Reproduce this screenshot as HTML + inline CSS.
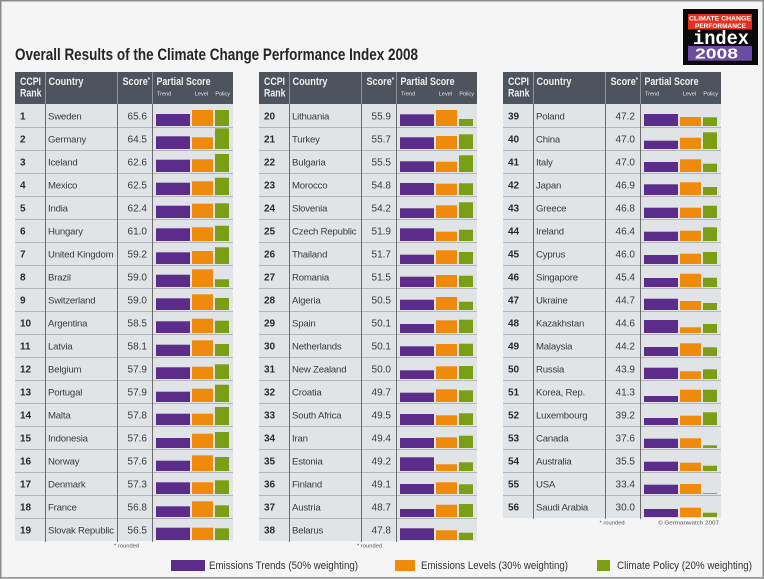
<!DOCTYPE html>
<html><head><meta charset="utf-8"><style>
html,body{margin:0;padding:0;background:#f5f5f5;}
svg{display:block;}
text{font-family:"Liberation Sans",Arial,sans-serif;}
.rk{font-size:10px;font-weight:bold;fill:#2a2a2a;}
.cn{font-size:9.6px;fill:#3a3a3a;letter-spacing:-0.2px;}
.sc{font-size:10px;fill:#3a3a3a;text-anchor:end;}
.t{fill:#5b2c8a;}
.l{fill:#ef8a0a;}
.p{fill:#7b9f14;}
.hd{font-size:11px;font-weight:bold;fill:#eeeeee;}
.hs{font-size:5.5px;fill:#e8e8e8;}
.fn{font-size:5.8px;fill:#555;}
.lg{font-size:11px;fill:#333;}
</style></head><body>
<svg width="764" height="579" viewBox="0 0 764 579" xmlns="http://www.w3.org/2000/svg">
<rect x="0" y="0" width="764" height="579" fill="#f5f5f5"/>
<rect x="0.75" y="0.75" width="762.5" height="577.2" fill="none" stroke="#8a8a8a" stroke-width="1.5"/>

<text x="15" y="60" font-size="16.5" font-weight="bold" fill="#262626" textLength="403" lengthAdjust="spacingAndGlyphs">Overall Results of the Climate Change Performance Index 2008</text>

<!-- Logo -->
<rect x="683" y="9" width="75" height="56" fill="#0a0a0a"/>
<rect x="688" y="14" width="64" height="15.5" fill="#e2311d"/>
<text x="720" y="20.5" font-size="6.8" font-weight="bold" fill="#fff" text-anchor="middle" textLength="62" lengthAdjust="spacingAndGlyphs">CLIMATE CHANGE</text>
<text x="720.5" y="27.8" font-size="6.8" font-weight="bold" fill="#fff" text-anchor="middle" textLength="51" lengthAdjust="spacingAndGlyphs">PERFORMANCE</text>
<text x="693" y="44" font-size="19" font-weight="bold" fill="#fff" font-family="Liberation Mono, monospace" textLength="56" lengthAdjust="spacingAndGlyphs" style="font-family:'Liberation Mono',monospace">index</text>
<rect x="688" y="46" width="64" height="14.7" fill="#6a4da2"/>
<text x="695" y="58.4" font-size="14.5" font-weight="bold" fill="#fff" textLength="43" lengthAdjust="spacingAndGlyphs">2008</text>

<!-- ===== Table frames ===== -->
<!-- T1 -->
<g transform="translate(15,0)">
<rect x="0" y="72" width="218" height="32" fill="#4e545d"/>
<rect x="0" y="104" width="218" height="437" fill="#e1e4e7"/>
<g stroke="#b3b7bc" stroke-width="1">
<line x1="0" y1="127.5" x2="218" y2="127.5"/><line x1="0" y1="150.5" x2="218" y2="150.5"/><line x1="0" y1="173.5" x2="218" y2="173.5"/><line x1="0" y1="196.5" x2="218" y2="196.5"/><line x1="0" y1="219.5" x2="218" y2="219.5"/><line x1="0" y1="242.5" x2="218" y2="242.5"/><line x1="0" y1="265.5" x2="218" y2="265.5"/><line x1="0" y1="288.5" x2="218" y2="288.5"/><line x1="0" y1="311.5" x2="218" y2="311.5"/><line x1="0" y1="334.5" x2="218" y2="334.5"/><line x1="0" y1="357.5" x2="218" y2="357.5"/><line x1="0" y1="380.5" x2="218" y2="380.5"/><line x1="0" y1="403.5" x2="218" y2="403.5"/><line x1="0" y1="426.5" x2="218" y2="426.5"/><line x1="0" y1="449.5" x2="218" y2="449.5"/><line x1="0" y1="472.5" x2="218" y2="472.5"/><line x1="0" y1="495.5" x2="218" y2="495.5"/><line x1="0" y1="518.5" x2="218" y2="518.5"/>
</g>
<g stroke="#8b9199" stroke-width="1"><line x1="30.5" y1="72" x2="30.5" y2="104"/><line x1="102.5" y1="72" x2="102.5" y2="104"/><line x1="137.5" y1="72" x2="137.5" y2="104"/></g>
<g stroke="#6c6c6c" stroke-width="1"><line x1="30.5" y1="104" x2="30.5" y2="542"/><line x1="102.5" y1="104" x2="102.5" y2="542"/><line x1="137.5" y1="104" x2="137.5" y2="542"/></g>
<text class="hd" x="5" y="85" textLength="21" lengthAdjust="spacingAndGlyphs">CCPI</text>
<text class="hd" x="5" y="96.5" textLength="21.5" lengthAdjust="spacingAndGlyphs">Rank</text>
<text class="hd" x="33.5" y="85" textLength="35" lengthAdjust="spacingAndGlyphs">Country</text>
<text class="hd" x="107.5" y="85" textLength="27.5" lengthAdjust="spacingAndGlyphs">Score<tspan font-size="7" dy="-3">*</tspan></text>
<text class="hd" x="141.5" y="85" textLength="54" lengthAdjust="spacingAndGlyphs">Partial Score</text>
<text class="hs" x="142" y="95.5">Trend</text>
<text class="hs" x="193" y="95.5" text-anchor="end">Level</text>
<text class="hs" x="215" y="95.5" text-anchor="end">Policy</text>
<text class="fn" x="99" y="547.5">* rounded</text>
</g>

<!-- T2 -->
<g transform="translate(259,0)">
<rect x="0" y="72" width="218" height="32" fill="#4e545d"/>
<rect x="0" y="104" width="218" height="437" fill="#e1e4e7"/>
<g stroke="#b3b7bc" stroke-width="1">
<line x1="0" y1="127.5" x2="218" y2="127.5"/><line x1="0" y1="150.5" x2="218" y2="150.5"/><line x1="0" y1="173.5" x2="218" y2="173.5"/><line x1="0" y1="196.5" x2="218" y2="196.5"/><line x1="0" y1="219.5" x2="218" y2="219.5"/><line x1="0" y1="242.5" x2="218" y2="242.5"/><line x1="0" y1="265.5" x2="218" y2="265.5"/><line x1="0" y1="288.5" x2="218" y2="288.5"/><line x1="0" y1="311.5" x2="218" y2="311.5"/><line x1="0" y1="334.5" x2="218" y2="334.5"/><line x1="0" y1="357.5" x2="218" y2="357.5"/><line x1="0" y1="380.5" x2="218" y2="380.5"/><line x1="0" y1="403.5" x2="218" y2="403.5"/><line x1="0" y1="426.5" x2="218" y2="426.5"/><line x1="0" y1="449.5" x2="218" y2="449.5"/><line x1="0" y1="472.5" x2="218" y2="472.5"/><line x1="0" y1="495.5" x2="218" y2="495.5"/><line x1="0" y1="518.5" x2="218" y2="518.5"/>
</g>
<g stroke="#8b9199" stroke-width="1"><line x1="30.5" y1="72" x2="30.5" y2="104"/><line x1="102.5" y1="72" x2="102.5" y2="104"/><line x1="137.5" y1="72" x2="137.5" y2="104"/></g>
<g stroke="#6c6c6c" stroke-width="1"><line x1="30.5" y1="104" x2="30.5" y2="542"/><line x1="102.5" y1="104" x2="102.5" y2="542"/><line x1="137.5" y1="104" x2="137.5" y2="542"/></g>
<text class="hd" x="5" y="85" textLength="21" lengthAdjust="spacingAndGlyphs">CCPI</text>
<text class="hd" x="5" y="96.5" textLength="21.5" lengthAdjust="spacingAndGlyphs">Rank</text>
<text class="hd" x="33.5" y="85" textLength="35" lengthAdjust="spacingAndGlyphs">Country</text>
<text class="hd" x="107.5" y="85" textLength="27.5" lengthAdjust="spacingAndGlyphs">Score<tspan font-size="7" dy="-3">*</tspan></text>
<text class="hd" x="141.5" y="85" textLength="54" lengthAdjust="spacingAndGlyphs">Partial Score</text>
<text class="hs" x="142" y="95.5">Trend</text>
<text class="hs" x="193" y="95.5" text-anchor="end">Level</text>
<text class="hs" x="215" y="95.5" text-anchor="end">Policy</text>
<text class="fn" x="98" y="547.5">* rounded</text>
</g>

<!-- T3 -->
<g transform="translate(503,0)">
<rect x="0" y="72" width="218" height="32" fill="#4e545d"/>
<rect x="0" y="104" width="218" height="414" fill="#e1e4e7"/>
<g stroke="#b3b7bc" stroke-width="1">
<line x1="0" y1="127.5" x2="218" y2="127.5"/><line x1="0" y1="150.5" x2="218" y2="150.5"/><line x1="0" y1="173.5" x2="218" y2="173.5"/><line x1="0" y1="196.5" x2="218" y2="196.5"/><line x1="0" y1="219.5" x2="218" y2="219.5"/><line x1="0" y1="242.5" x2="218" y2="242.5"/><line x1="0" y1="265.5" x2="218" y2="265.5"/><line x1="0" y1="288.5" x2="218" y2="288.5"/><line x1="0" y1="311.5" x2="218" y2="311.5"/><line x1="0" y1="334.5" x2="218" y2="334.5"/><line x1="0" y1="357.5" x2="218" y2="357.5"/><line x1="0" y1="380.5" x2="218" y2="380.5"/><line x1="0" y1="403.5" x2="218" y2="403.5"/><line x1="0" y1="426.5" x2="218" y2="426.5"/><line x1="0" y1="449.5" x2="218" y2="449.5"/><line x1="0" y1="472.5" x2="218" y2="472.5"/><line x1="0" y1="495.5" x2="218" y2="495.5"/>
</g>
<g stroke="#8b9199" stroke-width="1"><line x1="30.5" y1="72" x2="30.5" y2="104"/><line x1="102.5" y1="72" x2="102.5" y2="104"/><line x1="137.5" y1="72" x2="137.5" y2="104"/></g>
<g stroke="#6c6c6c" stroke-width="1"><line x1="30.5" y1="104" x2="30.5" y2="519"/><line x1="102.5" y1="104" x2="102.5" y2="519"/><line x1="137.5" y1="104" x2="137.5" y2="519"/></g>
<text class="hd" x="5" y="85" textLength="21" lengthAdjust="spacingAndGlyphs">CCPI</text>
<text class="hd" x="5" y="96.5" textLength="21.5" lengthAdjust="spacingAndGlyphs">Rank</text>
<text class="hd" x="33.5" y="85" textLength="35" lengthAdjust="spacingAndGlyphs">Country</text>
<text class="hd" x="107.5" y="85" textLength="27.5" lengthAdjust="spacingAndGlyphs">Score<tspan font-size="7" dy="-3">*</tspan></text>
<text class="hd" x="141.5" y="85" textLength="54" lengthAdjust="spacingAndGlyphs">Partial Score</text>
<text class="hs" x="142" y="95.5">Trend</text>
<text class="hs" x="193" y="95.5" text-anchor="end">Level</text>
<text class="hs" x="215" y="95.5" text-anchor="end">Policy</text>
<text class="fn" x="96.5" y="524.3">* rounded</text>
<text class="fn" x="155" y="524.3" textLength="61" lengthAdjust="spacingAndGlyphs">© Germanwatch 2007</text>
</g>

<!-- ===== Rows T1 ===== -->
<g transform="translate(15,104)"><text class="rk" x="5" y="15.5">1</text><text class="cn" x="33" y="15.5">Sweden</text><text class="sc" x="132" y="15.5">65.6</text><rect class="t" x="141" y="10" width="34" height="12"/><rect class="l" x="177" y="6" width="21" height="16"/><rect class="p" x="200" y="6" width="14" height="16"/></g>
<g transform="translate(15,127)"><text class="rk" x="5" y="15.5">2</text><text class="cn" x="33" y="15.5">Germany</text><text class="sc" x="132" y="15.5">64.5</text><rect class="t" x="141" y="9.3" width="34" height="12.7"/><rect class="l" x="177" y="10.3" width="21" height="11.7"/><rect class="p" x="200" y="1.3" width="14" height="20.7"/></g>
<g transform="translate(15,150)"><text class="rk" x="5" y="15.5">3</text><text class="cn" x="33" y="15.5">Iceland</text><text class="sc" x="132" y="15.5">62.6</text><rect class="t" x="141" y="9.7" width="34" height="12.3"/><rect class="l" x="177" y="9.3" width="21" height="12.7"/><rect class="p" x="200" y="4" width="14" height="18"/></g>
<g transform="translate(15,173)"><text class="rk" x="5" y="15.5">4</text><text class="cn" x="33" y="15.5">Mexico</text><text class="sc" x="132" y="15.5">62.5</text><rect class="t" x="141" y="9.7" width="34" height="12.3"/><rect class="l" x="177" y="8.3" width="21" height="13.7"/><rect class="p" x="200" y="4.7" width="14" height="17.3"/></g>
<g transform="translate(15,196)"><text class="rk" x="5" y="15.5">5</text><text class="cn" x="33" y="15.5">India</text><text class="sc" x="132" y="15.5">62.4</text><rect class="t" x="141" y="9.7" width="34" height="12.3"/><rect class="l" x="177" y="7.7" width="21" height="14.3"/><rect class="p" x="200" y="7.3" width="14" height="14.7"/></g>
<g transform="translate(15,219)"><text class="rk" x="5" y="15.5">6</text><text class="cn" x="33" y="15.5">Hungary</text><text class="sc" x="132" y="15.5">61.0</text><rect class="t" x="141" y="9.3" width="34" height="12.7"/><rect class="l" x="177" y="8.3" width="21" height="13.7"/><rect class="p" x="200" y="6.7" width="14" height="15.3"/></g>
<g transform="translate(15,242)"><text class="rk" x="5" y="15.5">7</text><text class="cn" x="33" y="15.5">United Kingdom</text><text class="sc" x="132" y="15.5">59.2</text><rect class="t" x="141" y="10.3" width="34" height="11.7"/><rect class="l" x="177" y="9" width="21" height="13"/><rect class="p" x="200" y="5.3" width="14" height="16.7"/></g>
<g transform="translate(15,265)"><text class="rk" x="5" y="15.5">8</text><text class="cn" x="33" y="15.5">Brazil</text><text class="sc" x="132" y="15.5">59.0</text><rect class="t" x="141" y="9.7" width="34" height="12.3"/><rect class="l" x="177" y="4.3" width="21" height="17.7"/><rect class="p" x="200" y="14.3" width="14" height="7.7"/></g>
<g transform="translate(15,288)"><text class="rk" x="5" y="15.5">9</text><text class="cn" x="33" y="15.5">Switzerland</text><text class="sc" x="132" y="15.5">59.0</text><rect class="t" x="141" y="10.3" width="34" height="11.7"/><rect class="l" x="177" y="6.3" width="21" height="15.7"/><rect class="p" x="200" y="10" width="14" height="12"/></g>
<g transform="translate(15,311)"><text class="rk" x="5" y="15.5">10</text><text class="cn" x="33" y="15.5">Argentina</text><text class="sc" x="132" y="15.5">58.5</text><rect class="t" x="141" y="10.3" width="34" height="11.7"/><rect class="l" x="177" y="7.7" width="21" height="14.3"/><rect class="p" x="200" y="9.7" width="14" height="12.3"/></g>
<g transform="translate(15,334)"><text class="rk" x="5" y="15.5">11</text><text class="cn" x="33" y="15.5">Latvia</text><text class="sc" x="132" y="15.5">58.1</text><rect class="t" x="141" y="10.7" width="34" height="11.3"/><rect class="l" x="177" y="6.3" width="21" height="15.7"/><rect class="p" x="200" y="10" width="14" height="12"/></g>
<g transform="translate(15,357)"><text class="rk" x="5" y="15.5">12</text><text class="cn" x="33" y="15.5">Belgium</text><text class="sc" x="132" y="15.5">57.9</text><rect class="t" x="141" y="10.3" width="34" height="11.7"/><rect class="l" x="177" y="9.7" width="21" height="12.3"/><rect class="p" x="200" y="7.3" width="14" height="14.7"/></g>
<g transform="translate(15,380)"><text class="rk" x="5" y="15.5">13</text><text class="cn" x="33" y="15.5">Portugal</text><text class="sc" x="132" y="15.5">57.9</text><rect class="t" x="141" y="11.7" width="34" height="10.3"/><rect class="l" x="177" y="8.7" width="21" height="13.3"/><rect class="p" x="200" y="4.7" width="14" height="17.3"/></g>
<g transform="translate(15,403)"><text class="rk" x="5" y="15.5">14</text><text class="cn" x="33" y="15.5">Malta</text><text class="sc" x="132" y="15.5">57.8</text><rect class="t" x="141" y="10.7" width="34" height="11.3"/><rect class="l" x="177" y="10.7" width="21" height="11.3"/><rect class="p" x="200" y="4" width="14" height="18"/></g>
<g transform="translate(15,426)"><text class="rk" x="5" y="15.5">15</text><text class="cn" x="33" y="15.5">Indonesia</text><text class="sc" x="132" y="15.5">57.6</text><rect class="t" x="141" y="12" width="34" height="10"/><rect class="l" x="177" y="7.7" width="21" height="14.3"/><rect class="p" x="200" y="6" width="14" height="16"/></g>
<g transform="translate(15,449)"><text class="rk" x="5" y="15.5">16</text><text class="cn" x="33" y="15.5">Norway</text><text class="sc" x="132" y="15.5">57.6</text><rect class="t" x="141" y="11.7" width="34" height="10.3"/><rect class="l" x="177" y="6.3" width="21" height="15.7"/><rect class="p" x="200" y="8" width="14" height="14"/></g>
<g transform="translate(15,472)"><text class="rk" x="5" y="15.5">17</text><text class="cn" x="33" y="15.5">Denmark</text><text class="sc" x="132" y="15.5">57.3</text><rect class="t" x="141" y="10.3" width="34" height="11.7"/><rect class="l" x="177" y="10.3" width="21" height="11.7"/><rect class="p" x="200" y="8.3" width="14" height="13.7"/></g>
<g transform="translate(15,495)"><text class="rk" x="5" y="15.5">18</text><text class="cn" x="33" y="15.5">France</text><text class="sc" x="132" y="15.5">56.8</text><rect class="t" x="141" y="11.3" width="34" height="10.7"/><rect class="l" x="177" y="6.3" width="21" height="15.7"/><rect class="p" x="200" y="10.3" width="14" height="11.7"/></g>
<g transform="translate(15,518)"><text class="rk" x="5" y="15.5">19</text><text class="cn" x="33" y="15.5">Slovak Republic</text><text class="sc" x="132" y="15.5">56.5</text><rect class="t" x="141" y="9.7" width="34" height="12.3"/><rect class="l" x="177" y="9.7" width="21" height="12.3"/><rect class="p" x="200" y="10.3" width="14" height="11.7"/></g>

<!-- ===== Rows T2 ===== -->
<g transform="translate(259,104)"><text class="rk" x="5" y="15.5">20</text><text class="cn" x="33" y="15.5">Lithuania</text><text class="sc" x="132" y="15.5">55.9</text><rect class="t" x="141" y="10.3" width="34" height="11.7"/><rect class="l" x="177" y="6" width="21" height="16"/><rect class="p" x="200" y="15" width="14" height="7"/></g>
<g transform="translate(259,127)"><text class="rk" x="5" y="15.5">21</text><text class="cn" x="33" y="15.5">Turkey</text><text class="sc" x="132" y="15.5">55.7</text><rect class="t" x="141" y="10.3" width="34" height="11.7"/><rect class="l" x="177" y="9" width="21" height="13"/><rect class="p" x="200" y="7.3" width="14" height="14.7"/></g>
<g transform="translate(259,150)"><text class="rk" x="5" y="15.5">22</text><text class="cn" x="33" y="15.5">Bulgaria</text><text class="sc" x="132" y="15.5">55.5</text><rect class="t" x="141" y="11.3" width="34" height="10.7"/><rect class="l" x="177" y="11.7" width="21" height="10.3"/><rect class="p" x="200" y="5.3" width="14" height="16.7"/></g>
<g transform="translate(259,173)"><text class="rk" x="5" y="15.5">23</text><text class="cn" x="33" y="15.5">Morocco</text><text class="sc" x="132" y="15.5">54.8</text><rect class="t" x="141" y="10" width="34" height="12"/><rect class="l" x="177" y="10.7" width="21" height="11.3"/><rect class="p" x="200" y="10.3" width="14" height="11.7"/></g>
<g transform="translate(259,196)"><text class="rk" x="5" y="15.5">24</text><text class="cn" x="33" y="15.5">Slovenia</text><text class="sc" x="132" y="15.5">54.2</text><rect class="t" x="141" y="12.3" width="34" height="9.7"/><rect class="l" x="177" y="9.3" width="21" height="12.7"/><rect class="p" x="200" y="6.3" width="14" height="15.7"/></g>
<g transform="translate(259,219)"><text class="rk" x="5" y="15.5">25</text><text class="cn" x="33" y="15.5">Czech Republic</text><text class="sc" x="132" y="15.5">51.9</text><rect class="t" x="141" y="9.3" width="34" height="12.7"/><rect class="l" x="177" y="12.7" width="21" height="9.3"/><rect class="p" x="200" y="10.7" width="14" height="11.3"/></g>
<g transform="translate(259,242)"><text class="rk" x="5" y="15.5">26</text><text class="cn" x="33" y="15.5">Thailand</text><text class="sc" x="132" y="15.5">51.7</text><rect class="t" x="141" y="12.7" width="34" height="9.3"/><rect class="l" x="177" y="8.3" width="21" height="13.7"/><rect class="p" x="200" y="10" width="14" height="12"/></g>
<g transform="translate(259,265)"><text class="rk" x="5" y="15.5">27</text><text class="cn" x="33" y="15.5">Romania</text><text class="sc" x="132" y="15.5">51.5</text><rect class="t" x="141" y="11.7" width="34" height="10.3"/><rect class="l" x="177" y="10" width="21" height="12"/><rect class="p" x="200" y="10.7" width="14" height="11.3"/></g>
<g transform="translate(259,288)"><text class="rk" x="5" y="15.5">28</text><text class="cn" x="33" y="15.5">Algeria</text><text class="sc" x="132" y="15.5">50.5</text><rect class="t" x="141" y="11.7" width="34" height="10.3"/><rect class="l" x="177" y="9" width="21" height="13"/><rect class="p" x="200" y="13.7" width="14" height="8.3"/></g>
<g transform="translate(259,311)"><text class="rk" x="5" y="15.5">29</text><text class="cn" x="33" y="15.5">Spain</text><text class="sc" x="132" y="15.5">50.1</text><rect class="t" x="141" y="13" width="34" height="9"/><rect class="l" x="177" y="9.3" width="21" height="12.7"/><rect class="p" x="200" y="8.7" width="14" height="13.3"/></g>
<g transform="translate(259,334)"><text class="rk" x="5" y="15.5">30</text><text class="cn" x="33" y="15.5">Netherlands</text><text class="sc" x="132" y="15.5">50.1</text><rect class="t" x="141" y="12.3" width="34" height="9.7"/><rect class="l" x="177" y="10" width="21" height="12"/><rect class="p" x="200" y="9.7" width="14" height="12.3"/></g>
<g transform="translate(259,357)"><text class="rk" x="5" y="15.5">31</text><text class="cn" x="33" y="15.5">New Zealand</text><text class="sc" x="132" y="15.5">50.0</text><rect class="t" x="141" y="13.3" width="34" height="8.7"/><rect class="l" x="177" y="9.3" width="21" height="12.7"/><rect class="p" x="200" y="9" width="14" height="13"/></g>
<g transform="translate(259,380)"><text class="rk" x="5" y="15.5">32</text><text class="cn" x="33" y="15.5">Croatia</text><text class="sc" x="132" y="15.5">49.7</text><rect class="t" x="141" y="12.7" width="34" height="9.3"/><rect class="l" x="177" y="9.3" width="21" height="12.7"/><rect class="p" x="200" y="10.3" width="14" height="11.7"/></g>
<g transform="translate(259,403)"><text class="rk" x="5" y="15.5">33</text><text class="cn" x="33" y="15.5">South Africa</text><text class="sc" x="132" y="15.5">49.5</text><rect class="t" x="141" y="11" width="34" height="11"/><rect class="l" x="177" y="12.3" width="21" height="9.7"/><rect class="p" x="200" y="10.3" width="14" height="11.7"/></g>
<g transform="translate(259,426)"><text class="rk" x="5" y="15.5">34</text><text class="cn" x="33" y="15.5">Iran</text><text class="sc" x="132" y="15.5">49.4</text><rect class="t" x="141" y="12" width="34" height="10"/><rect class="l" x="177" y="11.3" width="21" height="10.7"/><rect class="p" x="200" y="9.7" width="14" height="12.3"/></g>
<g transform="translate(259,449)"><text class="rk" x="5" y="15.5">35</text><text class="cn" x="33" y="15.5">Estonia</text><text class="sc" x="132" y="15.5">49.2</text><rect class="t" x="141" y="8.3" width="34" height="13.7"/><rect class="l" x="177" y="15.3" width="21" height="6.7"/><rect class="p" x="200" y="13.3" width="14" height="8.7"/></g>
<g transform="translate(259,472)"><text class="rk" x="5" y="15.5">36</text><text class="cn" x="33" y="15.5">Finland</text><text class="sc" x="132" y="15.5">49.1</text><rect class="t" x="141" y="12" width="34" height="10"/><rect class="l" x="177" y="10.3" width="21" height="11.7"/><rect class="p" x="200" y="12.3" width="14" height="9.7"/></g>
<g transform="translate(259,495)"><text class="rk" x="5" y="15.5">37</text><text class="cn" x="33" y="15.5">Austria</text><text class="sc" x="132" y="15.5">48.7</text><rect class="t" x="141" y="14" width="34" height="8"/><rect class="l" x="177" y="9.7" width="21" height="12.3"/><rect class="p" x="200" y="9" width="14" height="13"/></g>
<g transform="translate(259,518)"><text class="rk" x="5" y="15.5">38</text><text class="cn" x="33" y="15.5">Belarus</text><text class="sc" x="132" y="15.5">47.8</text><rect class="t" x="141" y="10.3" width="34" height="11.7"/><rect class="l" x="177" y="12.3" width="21" height="9.7"/><rect class="p" x="200" y="14.7" width="14" height="7.3"/></g>

<!-- ===== Rows T3 ===== -->
<g transform="translate(503,104)"><text class="rk" x="5" y="15.5">39</text><text class="cn" x="33" y="15.5">Poland</text><text class="sc" x="132" y="15.5">47.2</text><rect class="t" x="141" y="10" width="34" height="12"/><rect class="l" x="177" y="13" width="21" height="9"/><rect class="p" x="200" y="13.3" width="14" height="8.7"/></g>
<g transform="translate(503,127)"><text class="rk" x="5" y="15.5">40</text><text class="cn" x="33" y="15.5">China</text><text class="sc" x="132" y="15.5">47.0</text><rect class="t" x="141" y="13.7" width="34" height="8.3"/><rect class="l" x="177" y="10.7" width="21" height="11.3"/><rect class="p" x="200" y="5.3" width="14" height="16.7"/></g>
<g transform="translate(503,150)"><text class="rk" x="5" y="15.5">41</text><text class="cn" x="33" y="15.5">Italy</text><text class="sc" x="132" y="15.5">47.0</text><rect class="t" x="141" y="12" width="34" height="10"/><rect class="l" x="177" y="9.3" width="21" height="12.7"/><rect class="p" x="200" y="13.7" width="14" height="8.3"/></g>
<g transform="translate(503,173)"><text class="rk" x="5" y="15.5">42</text><text class="cn" x="33" y="15.5">Japan</text><text class="sc" x="132" y="15.5">46.9</text><rect class="t" x="141" y="11.3" width="34" height="10.7"/><rect class="l" x="177" y="9.3" width="21" height="12.7"/><rect class="p" x="200" y="14" width="14" height="8"/></g>
<g transform="translate(503,196)"><text class="rk" x="5" y="15.5">43</text><text class="cn" x="33" y="15.5">Greece</text><text class="sc" x="132" y="15.5">46.8</text><rect class="t" x="141" y="11.7" width="34" height="10.3"/><rect class="l" x="177" y="11.7" width="21" height="10.3"/><rect class="p" x="200" y="9.7" width="14" height="12.3"/></g>
<g transform="translate(503,219)"><text class="rk" x="5" y="15.5">44</text><text class="cn" x="33" y="15.5">Ireland</text><text class="sc" x="132" y="15.5">46.4</text><rect class="t" x="141" y="12.7" width="34" height="9.3"/><rect class="l" x="177" y="11.7" width="21" height="10.3"/><rect class="p" x="200" y="8.3" width="14" height="13.7"/></g>
<g transform="translate(503,242)"><text class="rk" x="5" y="15.5">45</text><text class="cn" x="33" y="15.5">Cyprus</text><text class="sc" x="132" y="15.5">46.0</text><rect class="t" x="141" y="13" width="34" height="9"/><rect class="l" x="177" y="11.7" width="21" height="10.3"/><rect class="p" x="200" y="10" width="14" height="12"/></g>
<g transform="translate(503,265)"><text class="rk" x="5" y="15.5">46</text><text class="cn" x="33" y="15.5">Singapore</text><text class="sc" x="132" y="15.5">45.4</text><rect class="t" x="141" y="13" width="34" height="9"/><rect class="l" x="177" y="8.7" width="21" height="13.3"/><rect class="p" x="200" y="12.7" width="14" height="9.3"/></g>
<g transform="translate(503,288)"><text class="rk" x="5" y="15.5">47</text><text class="cn" x="33" y="15.5">Ukraine</text><text class="sc" x="132" y="15.5">44.7</text><rect class="t" x="141" y="10.7" width="34" height="11.3"/><rect class="l" x="177" y="13" width="21" height="9"/><rect class="p" x="200" y="15" width="14" height="7"/></g>
<g transform="translate(503,311)"><text class="rk" x="5" y="15.5">48</text><text class="cn" x="33" y="15.5">Kazakhstan</text><text class="sc" x="132" y="15.5">44.6</text><rect class="t" x="141" y="9" width="34" height="13"/><rect class="l" x="177" y="16.3" width="21" height="5.7"/><rect class="p" x="200" y="13" width="14" height="9"/></g>
<g transform="translate(503,334)"><text class="rk" x="5" y="15.5">49</text><text class="cn" x="33" y="15.5">Malaysia</text><text class="sc" x="132" y="15.5">44.2</text><rect class="t" x="141" y="13" width="34" height="9"/><rect class="l" x="177" y="9.3" width="21" height="12.7"/><rect class="p" x="200" y="13.3" width="14" height="8.7"/></g>
<g transform="translate(503,357)"><text class="rk" x="5" y="15.5">50</text><text class="cn" x="33" y="15.5">Russia</text><text class="sc" x="132" y="15.5">43.9</text><rect class="t" x="141" y="10.7" width="34" height="11.3"/><rect class="l" x="177" y="14.3" width="21" height="7.7"/><rect class="p" x="200" y="12.3" width="14" height="9.7"/></g>
<g transform="translate(503,380)"><text class="rk" x="5" y="15.5">51</text><text class="cn" x="33" y="15.5">Korea, Rep.</text><text class="sc" x="132" y="15.5">41.3</text><rect class="t" x="141" y="16" width="34" height="6"/><rect class="l" x="177" y="9.7" width="21" height="12.3"/><rect class="p" x="200" y="9.7" width="14" height="12.3"/></g>
<g transform="translate(503,403)"><text class="rk" x="5" y="15.5">52</text><text class="cn" x="33" y="15.5">Luxembourg</text><text class="sc" x="132" y="15.5">39.2</text><rect class="t" x="141" y="15" width="34" height="7"/><rect class="l" x="177" y="12.7" width="21" height="9.3"/><rect class="p" x="200" y="9.3" width="14" height="12.7"/></g>
<g transform="translate(503,426)"><text class="rk" x="5" y="15.5">53</text><text class="cn" x="33" y="15.5">Canada</text><text class="sc" x="132" y="15.5">37.6</text><rect class="t" x="141" y="12.7" width="34" height="9.3"/><rect class="l" x="177" y="12.3" width="21" height="9.7"/><rect class="p" x="200" y="19.3" width="14" height="2.7"/></g>
<g transform="translate(503,449)"><text class="rk" x="5" y="15.5">54</text><text class="cn" x="33" y="15.5">Australia</text><text class="sc" x="132" y="15.5">35.5</text><rect class="t" x="141" y="12.7" width="34" height="9.3"/><rect class="l" x="177" y="13.7" width="21" height="8.3"/><rect class="p" x="200" y="16.7" width="14" height="5.3"/></g>
<g transform="translate(503,472)"><text class="rk" x="5" y="15.5">55</text><text class="cn" x="33" y="15.5">USA</text><text class="sc" x="132" y="15.5">33.4</text><rect class="t" x="141" y="12.7" width="34" height="9.3"/><rect class="l" x="177" y="12" width="21" height="10"/><rect class="p" x="200" y="21.2" width="14" height="0.8"/></g>
<g transform="translate(503,495)"><text class="rk" x="5" y="15.5">56</text><text class="cn" x="33" y="15.5">Saudi Arabia</text><text class="sc" x="132" y="15.5">30.0</text><rect class="t" x="141" y="14" width="34" height="8"/><rect class="l" x="177" y="12.7" width="21" height="9.3"/><rect class="p" x="200" y="17.7" width="14" height="4.3"/></g>

<!-- Legend -->
<rect class="t" x="171" y="560" width="34" height="11"/>
<text class="lg" x="209" y="569" textLength="149" lengthAdjust="spacingAndGlyphs">Emissions Trends (50% weighting)</text>
<rect class="l" x="395" y="560" width="20" height="11"/>
<text class="lg" x="421" y="569" textLength="147" lengthAdjust="spacingAndGlyphs">Emissions Levels (30% weighting)</text>
<rect class="p" x="597" y="560" width="13" height="11"/>
<text class="lg" x="617" y="569" textLength="135" lengthAdjust="spacingAndGlyphs">Climate Policy (20% weighting)</text>
</svg>
</body></html>
